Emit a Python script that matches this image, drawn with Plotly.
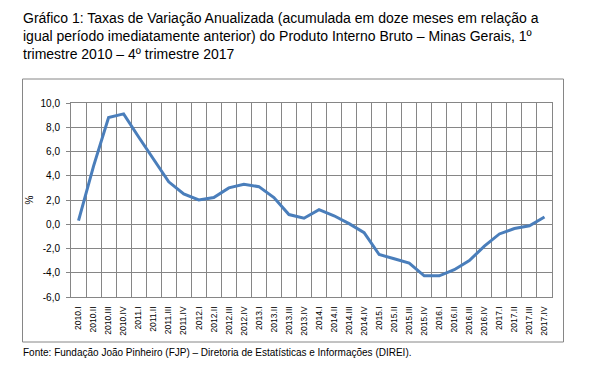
import plotly.graph_objects as go

categories = [
    "2010.I", "2010.II", "2010.III", "2010.IV",
    "2011.I", "2011.II", "2011.III", "2011.IV",
    "2012.I", "2012.II", "2012.III", "2012.IV",
    "2013.I", "2013.II", "2013.III", "2013.IV",
    "2014.I", "2014.II", "2014.III", "2014.IV",
    "2015.I", "2015.II", "2015.III", "2015.IV",
    "2016.I", "2016.II", "2016.III", "2016.IV",
    "2017.I", "2017.II", "2017.III", "2017.IV",
]
values = [
    0.3, 4.8, 8.8, 9.1,
    7.2, 5.4, 3.5, 2.5,
    2.0, 2.2, 3.0, 3.3,
    3.1, 2.2, 0.8, 0.5,
    1.2, 0.7, 0.05, -0.7,
    -2.5, -2.85, -3.2, -4.25,
    -4.25, -3.75, -3.0, -1.8,
    -0.8, -0.35, -0.12, 0.6,
]
y_tickvals = [-6, -4, -2, 0, 2, 4, 6, 8, 10]
y_ticktext = ["-6,0", "-4,0", "-2,0", "0,0", "2,0", "4,0", "6,0", "8,0", "10,0"]

title_text = ("Gráfico 1: Taxas de Variação Anualizada (acumulada em doze meses em relação a<br>"
              "igual período imediatamente anterior) do Produto Interno Bruto – Minas Gerais, 1º<br>"
              "trimestre 2010 – 4º trimestre 2017")
source_text = "Fonte: Fundação João Pinheiro (FJP) – Diretoria de Estatísticas e Informações (DIREI)."

# the page body has an 8px margin, so figure pixels = page pixels - 8
OFF = 8
W, H = 576, 351
L, R, T, B = 63, 32, 95, 62
pw, ph = W - L - R, H - T - B

def px_x(p):
    return (p - OFF - L) / pw

def px_y(p):
    return (H - B - (p - OFF)) / ph

fig = go.Figure()
fig.add_trace(go.Scatter(
    x=categories, y=values, mode="lines",
    line=dict(color="#4A7EBB", width=3),
    hoverinfo="x+y",
))

grid = "#868686"
fig.update_layout(
    width=W, height=H,
    margin=dict(l=L, r=R, t=T, b=B),
    paper_bgcolor="white", plot_bgcolor="white",
    showlegend=False,
    font=dict(family="Liberation Sans, Arial, sans-serif", color="black"),
    xaxis=dict(
        type="category", tickson="boundaries",
        showgrid=True, gridcolor=grid, gridwidth=1,
        showline=True, linecolor=grid, mirror=True,
        ticks="", tickangle=-90, tickfont=dict(size=8.5),
        ticklabelstandoff=5,
        range=[-0.5, len(categories) - 0.5], zeroline=False,
    ),
    yaxis=dict(
        range=[-6, 10], tickvals=y_tickvals, ticktext=y_ticktext,
        showgrid=True, gridcolor=grid, gridwidth=1,
        showline=True, linecolor=grid, mirror=True,
        ticks="outside", ticklen=4, tickcolor=grid,
        ticklabelstandoff=4,
        tickfont=dict(size=10), zeroline=False,
        title=dict(text="%", font=dict(size=10), standoff=5),
    ),
    shapes=[dict(
        type="rect", xref="paper", yref="paper",
        x0=px_x(22.5), x1=px_x(563.5), y0=px_y(342), y1=px_y(79),
        line=dict(color=grid, width=1), fillcolor="rgba(0,0,0,0)", layer="below",
    )],
    annotations=[
        dict(
            text=title_text, xref="paper", yref="paper",
            x=px_x(21), y=px_y(8), xanchor="left", yanchor="top", align="left",
            showarrow=False, font=dict(size=14, color="black"),
        ),
        dict(
            text=source_text, xref="paper", yref="paper",
            x=px_x(21), y=px_y(352), xanchor="left", yanchor="middle",
            showarrow=False, font=dict(size=10, color="black"),
        ),
    ],
)

fig.write_html("out.html")
